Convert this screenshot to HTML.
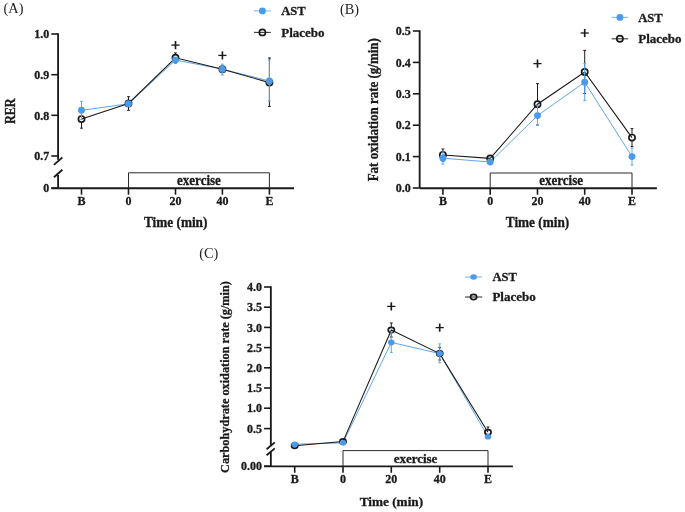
<!DOCTYPE html>
<html><head><meta charset="utf-8"><style>
html,body{margin:0;padding:0;background:#fff;}
svg{display:block;will-change:transform;font-family:"Liberation Serif", serif;}
</style></head><body>
<svg width="685" height="512" viewBox="0 0 685 512">
<rect width="685" height="512" fill="#fff"/>
<line x1="58.1" y1="33.3" x2="58.1" y2="159.8" stroke="#1a1a1a" stroke-width="1.85" />
<line x1="58.1" y1="175.0" x2="58.1" y2="188.2" stroke="#1a1a1a" stroke-width="1.85" />
<line x1="51.300000000000004" y1="34" x2="58.1" y2="34" stroke="#1a1a1a" stroke-width="1.6" />
<text x="0" y="0" transform="translate(49.30,38.20) scale(1.0,1.05)" font-size="12" text-anchor="end" font-weight="bold" fill="#1a1a1a"  stroke="#1a1a1a" stroke-width="0.3">1.0</text>
<line x1="51.300000000000004" y1="74.7" x2="58.1" y2="74.7" stroke="#1a1a1a" stroke-width="1.6" />
<text x="0" y="0" transform="translate(49.30,78.90) scale(1.0,1.05)" font-size="12" text-anchor="end" font-weight="bold" fill="#1a1a1a"  stroke="#1a1a1a" stroke-width="0.3">0.9</text>
<line x1="51.300000000000004" y1="115.3" x2="58.1" y2="115.3" stroke="#1a1a1a" stroke-width="1.6" />
<text x="0" y="0" transform="translate(49.30,119.50) scale(1.0,1.05)" font-size="12" text-anchor="end" font-weight="bold" fill="#1a1a1a"  stroke="#1a1a1a" stroke-width="0.3">0.8</text>
<line x1="51.300000000000004" y1="156.0" x2="58.1" y2="156.0" stroke="#1a1a1a" stroke-width="1.6" />
<text x="0" y="0" transform="translate(49.30,160.20) scale(1.0,1.05)" font-size="12" text-anchor="end" font-weight="bold" fill="#1a1a1a"  stroke="#1a1a1a" stroke-width="0.3">0.7</text>
<line x1="51.300000000000004" y1="188.2" x2="58.1" y2="188.2" stroke="#1a1a1a" stroke-width="1.6" />
<text x="0" y="0" transform="translate(49.30,192.40) scale(1.0,1.05)" font-size="12" text-anchor="end" font-weight="bold" fill="#1a1a1a"  stroke="#1a1a1a" stroke-width="0.3">0</text>
<line x1="53.9" y1="164.9" x2="62.4" y2="157.4" stroke="#1a1a1a" stroke-width="1.85" />
<line x1="53.9" y1="177.3" x2="62.4" y2="169.7" stroke="#1a1a1a" stroke-width="1.85" />
<line x1="51.3" y1="188.2" x2="294.0" y2="188.2" stroke="#1a1a1a" stroke-width="1.85" />
<polyline points="128.5,188.2 128.5,172.8 269.4,172.8 269.4,188.2" fill="none" stroke="#2a2a2a" stroke-width="1.0"/>
<text x="0" y="0" transform="translate(198.95,185.20) scale(1.0,1.1)" font-size="13" text-anchor="middle" font-weight="bold" fill="#1a1a1a"  stroke="#1a1a1a" stroke-width="0.3">exercise</text>
<line x1="81.5" y1="188.2" x2="81.5" y2="194.7" stroke="#1a1a1a" stroke-width="1.6" />
<text x="0" y="0" transform="translate(81.50,205.30) scale(1.0,1.08)" font-size="12" text-anchor="middle" font-weight="bold" fill="#1a1a1a"  stroke="#1a1a1a" stroke-width="0.3">B</text>
<line x1="128.5" y1="188.2" x2="128.5" y2="194.7" stroke="#1a1a1a" stroke-width="1.6" />
<text x="0" y="0" transform="translate(128.50,205.30) scale(1.0,1.08)" font-size="12" text-anchor="middle" font-weight="bold" fill="#1a1a1a"  stroke="#1a1a1a" stroke-width="0.3">0</text>
<line x1="175.5" y1="188.2" x2="175.5" y2="194.7" stroke="#1a1a1a" stroke-width="1.6" />
<text x="0" y="0" transform="translate(175.50,205.30) scale(1.0,1.08)" font-size="12" text-anchor="middle" font-weight="bold" fill="#1a1a1a"  stroke="#1a1a1a" stroke-width="0.3">20</text>
<line x1="222.4" y1="188.2" x2="222.4" y2="194.7" stroke="#1a1a1a" stroke-width="1.6" />
<text x="0" y="0" transform="translate(222.40,205.30) scale(1.0,1.08)" font-size="12" text-anchor="middle" font-weight="bold" fill="#1a1a1a"  stroke="#1a1a1a" stroke-width="0.3">40</text>
<line x1="269.4" y1="188.2" x2="269.4" y2="194.7" stroke="#1a1a1a" stroke-width="1.6" />
<text x="0" y="0" transform="translate(269.40,205.30) scale(1.0,1.08)" font-size="12" text-anchor="middle" font-weight="bold" fill="#1a1a1a"  stroke="#1a1a1a" stroke-width="0.3">E</text>
<text x="0" y="0" transform="translate(175.70,226.60) scale(1.02,1.12)" font-size="13" text-anchor="middle" font-weight="bold" fill="#1a1a1a"  stroke="#1a1a1a" stroke-width="0.3">Time (min)</text>
<text x="0" y="0" transform="translate(14.50,111.20) rotate(-90) scale(0.935,1.15)" font-size="13" text-anchor="middle" font-weight="bold" fill="#1a1a1a"  stroke="#1a1a1a" stroke-width="0.3">RER</text>
<text x="0" y="0" transform="translate(3.60,12.70)" font-size="14.3" text-anchor="start" font-weight="normal" fill="#222" >(A)</text>
<polyline points="81.5,110.3 128.5,103.8 175.5,60.0 222.4,69.2 269.4,81.0" fill="none" stroke="#62a6e6" stroke-width="1.0"/>
<polyline points="81.5,119.1 128.5,103.4 175.5,57.8 222.4,69.2 269.4,82.6" fill="none" stroke="#1a1a1a" stroke-width="1.1"/>
<line x1="81.5" y1="110" x2="81.5" y2="116.0" stroke="#1a1a1a" stroke-width="1.0" />
<line x1="81.5" y1="122.19999999999999" x2="81.5" y2="128.2" stroke="#1a1a1a" stroke-width="1.0" />
<line x1="80.1" y1="110" x2="82.9" y2="110" stroke="#1a1a1a" stroke-width="1.0" />
<line x1="80.1" y1="128.2" x2="82.9" y2="128.2" stroke="#1a1a1a" stroke-width="1.0" />
<line x1="128.5" y1="96.7" x2="128.5" y2="100.30000000000001" stroke="#1a1a1a" stroke-width="1.0" />
<line x1="128.5" y1="106.5" x2="128.5" y2="110.3" stroke="#1a1a1a" stroke-width="1.0" />
<line x1="127.1" y1="96.7" x2="129.9" y2="96.7" stroke="#1a1a1a" stroke-width="1.0" />
<line x1="127.1" y1="110.3" x2="129.9" y2="110.3" stroke="#1a1a1a" stroke-width="1.0" />
<line x1="175.5" y1="52.9" x2="175.5" y2="54.699999999999996" stroke="#1a1a1a" stroke-width="1.0" />
<line x1="175.5" y1="60.9" x2="175.5" y2="63" stroke="#1a1a1a" stroke-width="1.0" />
<line x1="174.1" y1="52.9" x2="176.9" y2="52.9" stroke="#1a1a1a" stroke-width="1.0" />
<line x1="174.1" y1="63" x2="176.9" y2="63" stroke="#1a1a1a" stroke-width="1.0" />
<line x1="269.4" y1="58" x2="269.4" y2="79.5" stroke="#1a1a1a" stroke-width="1.0" />
<line x1="269.4" y1="85.69999999999999" x2="269.4" y2="106.4" stroke="#1a1a1a" stroke-width="1.0" />
<line x1="268.0" y1="58" x2="270.79999999999995" y2="58" stroke="#1a1a1a" stroke-width="1.0" />
<line x1="268.0" y1="106.4" x2="270.79999999999995" y2="106.4" stroke="#1a1a1a" stroke-width="1.0" />
<ellipse cx="81.5" cy="119.1" rx="3.1" ry="3.10" fill="none" stroke="#1a1a1a" stroke-width="1.7"/>
<ellipse cx="128.5" cy="103.4" rx="3.1" ry="3.10" fill="none" stroke="#1a1a1a" stroke-width="1.7"/>
<ellipse cx="175.5" cy="57.8" rx="3.1" ry="3.10" fill="none" stroke="#1a1a1a" stroke-width="1.7"/>
<ellipse cx="222.4" cy="69.2" rx="3.1" ry="3.10" fill="none" stroke="#1a1a1a" stroke-width="1.7"/>
<ellipse cx="269.4" cy="82.6" rx="3.1" ry="3.10" fill="none" stroke="#1a1a1a" stroke-width="1.7"/>
<line x1="81.5" y1="101.3" x2="81.5" y2="119.4" stroke="#62a6e6" stroke-width="1.0" />
<line x1="80.1" y1="101.3" x2="82.9" y2="101.3" stroke="#62a6e6" stroke-width="1.0" />
<line x1="80.1" y1="119.4" x2="82.9" y2="119.4" stroke="#62a6e6" stroke-width="1.0" />
<line x1="222.4" y1="64.2" x2="222.4" y2="75.0" stroke="#62a6e6" stroke-width="1.0" />
<line x1="221.0" y1="64.2" x2="223.8" y2="64.2" stroke="#62a6e6" stroke-width="1.0" />
<line x1="221.0" y1="75.0" x2="223.8" y2="75.0" stroke="#62a6e6" stroke-width="1.0" />
<line x1="269.4" y1="60" x2="269.4" y2="101" stroke="#62a6e6" stroke-width="1.0" />
<line x1="268.0" y1="60" x2="270.79999999999995" y2="60" stroke="#62a6e6" stroke-width="1.0" />
<line x1="268.0" y1="101" x2="270.79999999999995" y2="101" stroke="#62a6e6" stroke-width="1.0" />
<ellipse cx="81.5" cy="110.3" rx="3.45" ry="3.45" fill="#4c9aea"/>
<ellipse cx="128.5" cy="103.8" rx="3.45" ry="3.45" fill="#4c9aea"/>
<ellipse cx="175.5" cy="60.0" rx="3.45" ry="3.45" fill="#4c9aea"/>
<ellipse cx="222.4" cy="69.2" rx="3.45" ry="3.45" fill="#4c9aea"/>
<ellipse cx="269.4" cy="81.0" rx="3.45" ry="3.45" fill="#4c9aea"/>
<line x1="171.4" y1="45.1" x2="179.6" y2="45.1" stroke="#1a1a1a" stroke-width="1.3" />
<line x1="175.5" y1="41.0" x2="175.5" y2="49.2" stroke="#1a1a1a" stroke-width="1.65" />
<line x1="218.3" y1="55.4" x2="226.5" y2="55.4" stroke="#1a1a1a" stroke-width="1.3" />
<line x1="222.4" y1="51.3" x2="222.4" y2="59.5" stroke="#1a1a1a" stroke-width="1.65" />
<line x1="254" y1="10.9" x2="270.8" y2="10.9" stroke="#86b8e6" stroke-width="1.1" />
<ellipse cx="262.4" cy="10.9" rx="3.45" ry="3.45" fill="#4c9aea"/>
<line x1="254" y1="32.4" x2="270.8" y2="32.4" stroke="#3a3a3a" stroke-width="1.1" />
<ellipse cx="262.4" cy="32.4" rx="3.1" ry="3.10" fill="none" stroke="#1a1a1a" stroke-width="1.7"/>
<text x="0" y="0" transform="translate(281.20,15.20) scale(0.97,1.03)" font-size="13" text-anchor="start" font-weight="bold" fill="#1a1a1a"  stroke="#1a1a1a" stroke-width="0.3">AST</text>
<text x="0" y="0" transform="translate(281.20,36.60)" font-size="13" text-anchor="start" font-weight="bold" fill="#1a1a1a"  stroke="#1a1a1a" stroke-width="0.3">Placebo</text>
<line x1="419.65" y1="30.3" x2="419.65" y2="188.0" stroke="#1a1a1a" stroke-width="1.85" />
<line x1="412.84999999999997" y1="31" x2="419.65" y2="31" stroke="#1a1a1a" stroke-width="1.6" />
<text x="0" y="0" transform="translate(410.85,35.20) scale(1.0,1.05)" font-size="12" text-anchor="end" font-weight="bold" fill="#1a1a1a"  stroke="#1a1a1a" stroke-width="0.3">0.5</text>
<line x1="412.84999999999997" y1="62.4" x2="419.65" y2="62.4" stroke="#1a1a1a" stroke-width="1.6" />
<text x="0" y="0" transform="translate(410.85,66.60) scale(1.0,1.05)" font-size="12" text-anchor="end" font-weight="bold" fill="#1a1a1a"  stroke="#1a1a1a" stroke-width="0.3">0.4</text>
<line x1="412.84999999999997" y1="93.8" x2="419.65" y2="93.8" stroke="#1a1a1a" stroke-width="1.6" />
<text x="0" y="0" transform="translate(410.85,98.00) scale(1.0,1.05)" font-size="12" text-anchor="end" font-weight="bold" fill="#1a1a1a"  stroke="#1a1a1a" stroke-width="0.3">0.3</text>
<line x1="412.84999999999997" y1="125.2" x2="419.65" y2="125.2" stroke="#1a1a1a" stroke-width="1.6" />
<text x="0" y="0" transform="translate(410.85,129.40) scale(1.0,1.05)" font-size="12" text-anchor="end" font-weight="bold" fill="#1a1a1a"  stroke="#1a1a1a" stroke-width="0.3">0.2</text>
<line x1="412.84999999999997" y1="156.6" x2="419.65" y2="156.6" stroke="#1a1a1a" stroke-width="1.6" />
<text x="0" y="0" transform="translate(410.85,160.80) scale(1.0,1.05)" font-size="12" text-anchor="end" font-weight="bold" fill="#1a1a1a"  stroke="#1a1a1a" stroke-width="0.3">0.1</text>
<line x1="412.84999999999997" y1="188.0" x2="419.65" y2="188.0" stroke="#1a1a1a" stroke-width="1.6" />
<text x="0" y="0" transform="translate(410.85,192.20) scale(1.0,1.05)" font-size="12" text-anchor="end" font-weight="bold" fill="#1a1a1a"  stroke="#1a1a1a" stroke-width="0.3">0.0</text>
<line x1="419.6" y1="188.25" x2="656.9" y2="188.25" stroke="#1a1a1a" stroke-width="1.85" />
<polyline points="490.2,188.25 490.2,173.0 632.0,173.0 632.0,188.25" fill="none" stroke="#2a2a2a" stroke-width="1.0"/>
<text x="0" y="0" transform="translate(561.10,185.25) scale(1.0,1.1)" font-size="13" text-anchor="middle" font-weight="bold" fill="#1a1a1a"  stroke="#1a1a1a" stroke-width="0.3">exercise</text>
<line x1="442.9" y1="188.25" x2="442.9" y2="194.75" stroke="#1a1a1a" stroke-width="1.6" />
<text x="0" y="0" transform="translate(442.90,205.30) scale(1.0,1.08)" font-size="12" text-anchor="middle" font-weight="bold" fill="#1a1a1a"  stroke="#1a1a1a" stroke-width="0.3">B</text>
<line x1="490.2" y1="188.25" x2="490.2" y2="194.75" stroke="#1a1a1a" stroke-width="1.6" />
<text x="0" y="0" transform="translate(490.20,205.30) scale(1.0,1.08)" font-size="12" text-anchor="middle" font-weight="bold" fill="#1a1a1a"  stroke="#1a1a1a" stroke-width="0.3">0</text>
<line x1="537.5" y1="188.25" x2="537.5" y2="194.75" stroke="#1a1a1a" stroke-width="1.6" />
<text x="0" y="0" transform="translate(537.50,205.30) scale(1.0,1.08)" font-size="12" text-anchor="middle" font-weight="bold" fill="#1a1a1a"  stroke="#1a1a1a" stroke-width="0.3">20</text>
<line x1="584.7" y1="188.25" x2="584.7" y2="194.75" stroke="#1a1a1a" stroke-width="1.6" />
<text x="0" y="0" transform="translate(584.70,205.30) scale(1.0,1.08)" font-size="12" text-anchor="middle" font-weight="bold" fill="#1a1a1a"  stroke="#1a1a1a" stroke-width="0.3">40</text>
<line x1="632.0" y1="188.25" x2="632.0" y2="194.75" stroke="#1a1a1a" stroke-width="1.6" />
<text x="0" y="0" transform="translate(632.00,205.30) scale(1.0,1.08)" font-size="12" text-anchor="middle" font-weight="bold" fill="#1a1a1a"  stroke="#1a1a1a" stroke-width="0.3">E</text>
<text x="0" y="0" transform="translate(537.50,226.60) scale(1.02,1.12)" font-size="13" text-anchor="middle" font-weight="bold" fill="#1a1a1a"  stroke="#1a1a1a" stroke-width="0.3">Time (min)</text>
<text x="0" y="0" transform="translate(377.80,109.70) rotate(-90) scale(1.0,1.1)" font-size="13" text-anchor="middle" font-weight="bold" fill="#1a1a1a"  stroke="#1a1a1a" stroke-width="0.3">Fat oxidation rate (g/min)</text>
<text x="0" y="0" transform="translate(340.00,14.00)" font-size="14.3" text-anchor="start" font-weight="normal" fill="#222" >(B)</text>
<polyline points="442.9,158.2 490.2,162.0 537.5,115.6 584.7,82.2 632.0,156.6" fill="none" stroke="#62a6e6" stroke-width="1.0"/>
<polyline points="442.9,155.0 490.2,158.4 537.5,104.2 584.7,72.0 632.0,137.6" fill="none" stroke="#1a1a1a" stroke-width="1.1"/>
<line x1="442.9" y1="149" x2="442.9" y2="151.9" stroke="#1a1a1a" stroke-width="1.0" />
<line x1="442.9" y1="158.1" x2="442.9" y2="161" stroke="#1a1a1a" stroke-width="1.0" />
<line x1="441.5" y1="149" x2="444.29999999999995" y2="149" stroke="#1a1a1a" stroke-width="1.0" />
<line x1="441.5" y1="161" x2="444.29999999999995" y2="161" stroke="#1a1a1a" stroke-width="1.0" />
<line x1="537.5" y1="83.6" x2="537.5" y2="101.10000000000001" stroke="#1a1a1a" stroke-width="1.0" />
<line x1="537.5" y1="107.3" x2="537.5" y2="125" stroke="#1a1a1a" stroke-width="1.0" />
<line x1="536.1" y1="83.6" x2="538.9" y2="83.6" stroke="#1a1a1a" stroke-width="1.0" />
<line x1="536.1" y1="125" x2="538.9" y2="125" stroke="#1a1a1a" stroke-width="1.0" />
<line x1="584.7" y1="50.4" x2="584.7" y2="68.9" stroke="#1a1a1a" stroke-width="1.0" />
<line x1="584.7" y1="75.1" x2="584.7" y2="93.6" stroke="#1a1a1a" stroke-width="1.0" />
<line x1="583.3000000000001" y1="50.4" x2="586.1" y2="50.4" stroke="#1a1a1a" stroke-width="1.0" />
<line x1="583.3000000000001" y1="93.6" x2="586.1" y2="93.6" stroke="#1a1a1a" stroke-width="1.0" />
<line x1="632.0" y1="128.6" x2="632.0" y2="134.5" stroke="#1a1a1a" stroke-width="1.0" />
<line x1="632.0" y1="140.7" x2="632.0" y2="146.6" stroke="#1a1a1a" stroke-width="1.0" />
<line x1="630.6" y1="128.6" x2="633.4" y2="128.6" stroke="#1a1a1a" stroke-width="1.0" />
<line x1="630.6" y1="146.6" x2="633.4" y2="146.6" stroke="#1a1a1a" stroke-width="1.0" />
<ellipse cx="442.9" cy="155.0" rx="3.1" ry="3.10" fill="none" stroke="#1a1a1a" stroke-width="1.7"/>
<ellipse cx="490.2" cy="158.4" rx="3.1" ry="3.10" fill="none" stroke="#1a1a1a" stroke-width="1.7"/>
<ellipse cx="537.5" cy="104.2" rx="3.1" ry="3.10" fill="none" stroke="#1a1a1a" stroke-width="1.7"/>
<ellipse cx="584.7" cy="72.0" rx="3.1" ry="3.10" fill="none" stroke="#1a1a1a" stroke-width="1.7"/>
<ellipse cx="632.0" cy="137.6" rx="3.1" ry="3.10" fill="none" stroke="#1a1a1a" stroke-width="1.7"/>
<line x1="442.9" y1="152" x2="442.9" y2="164" stroke="#62a6e6" stroke-width="1.0" />
<line x1="441.5" y1="152" x2="444.29999999999995" y2="152" stroke="#62a6e6" stroke-width="1.0" />
<line x1="441.5" y1="164" x2="444.29999999999995" y2="164" stroke="#62a6e6" stroke-width="1.0" />
<line x1="537.5" y1="105.6" x2="537.5" y2="125.4" stroke="#62a6e6" stroke-width="1.0" />
<line x1="536.1" y1="105.6" x2="538.9" y2="105.6" stroke="#62a6e6" stroke-width="1.0" />
<line x1="536.1" y1="125.4" x2="538.9" y2="125.4" stroke="#62a6e6" stroke-width="1.0" />
<line x1="584.7" y1="63.6" x2="584.7" y2="100.4" stroke="#62a6e6" stroke-width="1.0" />
<line x1="583.3000000000001" y1="63.6" x2="586.1" y2="63.6" stroke="#62a6e6" stroke-width="1.0" />
<line x1="583.3000000000001" y1="100.4" x2="586.1" y2="100.4" stroke="#62a6e6" stroke-width="1.0" />
<line x1="632.0" y1="148" x2="632.0" y2="165" stroke="#62a6e6" stroke-width="1.0" />
<line x1="630.6" y1="148" x2="633.4" y2="148" stroke="#62a6e6" stroke-width="1.0" />
<line x1="630.6" y1="165" x2="633.4" y2="165" stroke="#62a6e6" stroke-width="1.0" />
<ellipse cx="442.9" cy="158.2" rx="3.45" ry="3.45" fill="#4c9aea"/>
<ellipse cx="490.2" cy="162.0" rx="3.45" ry="3.45" fill="#4c9aea"/>
<ellipse cx="537.5" cy="115.6" rx="3.45" ry="3.45" fill="#4c9aea"/>
<ellipse cx="584.7" cy="82.2" rx="3.45" ry="3.45" fill="#4c9aea"/>
<ellipse cx="632.0" cy="156.6" rx="3.45" ry="3.45" fill="#4c9aea"/>
<line x1="533.4" y1="63.6" x2="541.6" y2="63.6" stroke="#1a1a1a" stroke-width="1.3" />
<line x1="537.5" y1="59.5" x2="537.5" y2="67.7" stroke="#1a1a1a" stroke-width="1.65" />
<line x1="580.6" y1="33.0" x2="588.8000000000001" y2="33.0" stroke="#1a1a1a" stroke-width="1.3" />
<line x1="584.7" y1="28.9" x2="584.7" y2="37.1" stroke="#1a1a1a" stroke-width="1.65" />
<line x1="611.6" y1="17.4" x2="628.2" y2="17.4" stroke="#86b8e6" stroke-width="1.1" />
<ellipse cx="619.9000000000001" cy="17.4" rx="3.45" ry="3.45" fill="#4c9aea"/>
<line x1="611.6" y1="38.8" x2="628.2" y2="38.8" stroke="#3a3a3a" stroke-width="1.1" />
<ellipse cx="619.9000000000001" cy="38.8" rx="3.1" ry="3.10" fill="none" stroke="#1a1a1a" stroke-width="1.7"/>
<text x="0" y="0" transform="translate(638.20,21.70) scale(0.97,1.03)" font-size="13" text-anchor="start" font-weight="bold" fill="#1a1a1a"  stroke="#1a1a1a" stroke-width="0.3">AST</text>
<text x="0" y="0" transform="translate(638.20,43.00)" font-size="13" text-anchor="start" font-weight="bold" fill="#1a1a1a"  stroke="#1a1a1a" stroke-width="0.3">Placebo</text>
<line x1="270.85" y1="286.3" x2="270.85" y2="445.5" stroke="#1a1a1a" stroke-width="1.85" />
<line x1="270.85" y1="452.2" x2="270.85" y2="466.2" stroke="#1a1a1a" stroke-width="1.85" />
<line x1="264.05" y1="287.0" x2="270.85" y2="287.0" stroke="#1a1a1a" stroke-width="1.6" />
<text x="0" y="0" transform="translate(262.05,291.20) scale(1.0,0.9974999999999999)" font-size="12" text-anchor="end" font-weight="bold" fill="#1a1a1a"  stroke="#1a1a1a" stroke-width="0.3">4.0</text>
<line x1="264.05" y1="307.2" x2="270.85" y2="307.2" stroke="#1a1a1a" stroke-width="1.6" />
<text x="0" y="0" transform="translate(262.05,311.40) scale(1.0,0.9974999999999999)" font-size="12" text-anchor="end" font-weight="bold" fill="#1a1a1a"  stroke="#1a1a1a" stroke-width="0.3">3.5</text>
<line x1="264.05" y1="327.4" x2="270.85" y2="327.4" stroke="#1a1a1a" stroke-width="1.6" />
<text x="0" y="0" transform="translate(262.05,331.60) scale(1.0,0.9974999999999999)" font-size="12" text-anchor="end" font-weight="bold" fill="#1a1a1a"  stroke="#1a1a1a" stroke-width="0.3">3.0</text>
<line x1="264.05" y1="347.6" x2="270.85" y2="347.6" stroke="#1a1a1a" stroke-width="1.6" />
<text x="0" y="0" transform="translate(262.05,351.80) scale(1.0,0.9974999999999999)" font-size="12" text-anchor="end" font-weight="bold" fill="#1a1a1a"  stroke="#1a1a1a" stroke-width="0.3">2.5</text>
<line x1="264.05" y1="367.8" x2="270.85" y2="367.8" stroke="#1a1a1a" stroke-width="1.6" />
<text x="0" y="0" transform="translate(262.05,372.00) scale(1.0,0.9974999999999999)" font-size="12" text-anchor="end" font-weight="bold" fill="#1a1a1a"  stroke="#1a1a1a" stroke-width="0.3">2.0</text>
<line x1="264.05" y1="388.0" x2="270.85" y2="388.0" stroke="#1a1a1a" stroke-width="1.6" />
<text x="0" y="0" transform="translate(262.05,392.20) scale(1.0,0.9974999999999999)" font-size="12" text-anchor="end" font-weight="bold" fill="#1a1a1a"  stroke="#1a1a1a" stroke-width="0.3">1.5</text>
<line x1="264.05" y1="408.2" x2="270.85" y2="408.2" stroke="#1a1a1a" stroke-width="1.6" />
<text x="0" y="0" transform="translate(262.05,412.40) scale(1.0,0.9974999999999999)" font-size="12" text-anchor="end" font-weight="bold" fill="#1a1a1a"  stroke="#1a1a1a" stroke-width="0.3">1.0</text>
<line x1="264.05" y1="428.6" x2="270.85" y2="428.6" stroke="#1a1a1a" stroke-width="1.6" />
<text x="0" y="0" transform="translate(262.05,432.80) scale(1.0,0.9974999999999999)" font-size="12" text-anchor="end" font-weight="bold" fill="#1a1a1a"  stroke="#1a1a1a" stroke-width="0.3">0.5</text>
<line x1="264.05" y1="466.2" x2="270.85" y2="466.2" stroke="#1a1a1a" stroke-width="1.6" />
<text x="0" y="0" transform="translate(262.05,470.40) scale(1.0,0.9974999999999999)" font-size="12" text-anchor="end" font-weight="bold" fill="#1a1a1a"  stroke="#1a1a1a" stroke-width="0.3">0.00</text>
<line x1="266.6" y1="449.2" x2="274.8" y2="442.4" stroke="#1a1a1a" stroke-width="1.85" />
<line x1="266.6" y1="455.2" x2="274.8" y2="448.4" stroke="#1a1a1a" stroke-width="1.85" />
<line x1="264.0" y1="466.3" x2="512.9" y2="466.3" stroke="#1a1a1a" stroke-width="1.85" />
<polyline points="343.0,466.3 343.0,450.6 488.0,450.6 488.0,466.3" fill="none" stroke="#2a2a2a" stroke-width="1.0"/>
<text x="0" y="0" transform="translate(415.50,463.30) scale(1.0,0.9900000000000001)" font-size="13" text-anchor="middle" font-weight="bold" fill="#1a1a1a"  stroke="#1a1a1a" stroke-width="0.3">exercise</text>
<line x1="294.7" y1="466.3" x2="294.7" y2="472.8" stroke="#1a1a1a" stroke-width="1.6" />
<text x="0" y="0" transform="translate(294.70,483.00) scale(1.0,1.026)" font-size="12" text-anchor="middle" font-weight="bold" fill="#1a1a1a"  stroke="#1a1a1a" stroke-width="0.3">B</text>
<line x1="343.0" y1="466.3" x2="343.0" y2="472.8" stroke="#1a1a1a" stroke-width="1.6" />
<text x="0" y="0" transform="translate(343.00,483.00) scale(1.0,1.026)" font-size="12" text-anchor="middle" font-weight="bold" fill="#1a1a1a"  stroke="#1a1a1a" stroke-width="0.3">0</text>
<line x1="391.3" y1="466.3" x2="391.3" y2="472.8" stroke="#1a1a1a" stroke-width="1.6" />
<text x="0" y="0" transform="translate(391.30,483.00) scale(1.0,1.026)" font-size="12" text-anchor="middle" font-weight="bold" fill="#1a1a1a"  stroke="#1a1a1a" stroke-width="0.3">20</text>
<line x1="439.7" y1="466.3" x2="439.7" y2="472.8" stroke="#1a1a1a" stroke-width="1.6" />
<text x="0" y="0" transform="translate(439.70,483.00) scale(1.0,1.026)" font-size="12" text-anchor="middle" font-weight="bold" fill="#1a1a1a"  stroke="#1a1a1a" stroke-width="0.3">40</text>
<line x1="488.0" y1="466.3" x2="488.0" y2="472.8" stroke="#1a1a1a" stroke-width="1.6" />
<text x="0" y="0" transform="translate(488.00,483.00) scale(1.0,1.026)" font-size="12" text-anchor="middle" font-weight="bold" fill="#1a1a1a"  stroke="#1a1a1a" stroke-width="0.3">E</text>
<text x="0" y="0" transform="translate(391.40,506.30) scale(1.02,1.0080000000000002)" font-size="13" text-anchor="middle" font-weight="bold" fill="#1a1a1a"  stroke="#1a1a1a" stroke-width="0.3">Time (min)</text>
<text x="0" y="0" transform="translate(229.40,377.00) rotate(-90) scale(0.945,1.03)" font-size="13" text-anchor="middle" font-weight="bold" fill="#1a1a1a"  stroke="#1a1a1a" stroke-width="0.3">Carbohydrate oxidation rate (g/min)</text>
<text x="0" y="0" transform="translate(199.20,257.80)" font-size="14.3" text-anchor="start" font-weight="normal" fill="#222" >(C)</text>
<polyline points="294.7,444.2 343.0,442.8 391.3,342.4 439.7,353.6 488.0,436.7" fill="none" stroke="#62a6e6" stroke-width="1.0"/>
<polyline points="294.7,445.8 343.0,441.6 391.3,330.1 439.7,353.6 488.0,432.3" fill="none" stroke="#1a1a1a" stroke-width="1.1"/>
<line x1="391.3" y1="323" x2="391.3" y2="327.46500000000003" stroke="#1a1a1a" stroke-width="1.0" />
<line x1="391.3" y1="332.735" x2="391.3" y2="337" stroke="#1a1a1a" stroke-width="1.0" />
<line x1="389.90000000000003" y1="323" x2="392.7" y2="323" stroke="#1a1a1a" stroke-width="1.0" />
<line x1="389.90000000000003" y1="337" x2="392.7" y2="337" stroke="#1a1a1a" stroke-width="1.0" />
<line x1="439.7" y1="347.3" x2="439.7" y2="350.96500000000003" stroke="#1a1a1a" stroke-width="1.0" />
<line x1="439.7" y1="356.235" x2="439.7" y2="360" stroke="#1a1a1a" stroke-width="1.0" />
<line x1="438.3" y1="347.3" x2="441.09999999999997" y2="347.3" stroke="#1a1a1a" stroke-width="1.0" />
<line x1="438.3" y1="360" x2="441.09999999999997" y2="360" stroke="#1a1a1a" stroke-width="1.0" />
<line x1="488.0" y1="427" x2="488.0" y2="429.665" stroke="#1a1a1a" stroke-width="1.0" />
<line x1="488.0" y1="434.935" x2="488.0" y2="437" stroke="#1a1a1a" stroke-width="1.0" />
<line x1="486.6" y1="427" x2="489.4" y2="427" stroke="#1a1a1a" stroke-width="1.0" />
<line x1="486.6" y1="437" x2="489.4" y2="437" stroke="#1a1a1a" stroke-width="1.0" />
<ellipse cx="294.7" cy="445.8" rx="3.1" ry="2.63" fill="none" stroke="#1a1a1a" stroke-width="1.7"/>
<ellipse cx="343.0" cy="441.6" rx="3.1" ry="2.63" fill="none" stroke="#1a1a1a" stroke-width="1.7"/>
<ellipse cx="391.3" cy="330.1" rx="3.1" ry="2.63" fill="none" stroke="#1a1a1a" stroke-width="1.7"/>
<ellipse cx="439.7" cy="353.6" rx="3.1" ry="2.63" fill="none" stroke="#1a1a1a" stroke-width="1.7"/>
<ellipse cx="488.0" cy="432.3" rx="3.1" ry="2.63" fill="none" stroke="#1a1a1a" stroke-width="1.7"/>
<line x1="391.3" y1="332" x2="391.3" y2="352.4" stroke="#62a6e6" stroke-width="1.0" />
<line x1="389.90000000000003" y1="332" x2="392.7" y2="332" stroke="#62a6e6" stroke-width="1.0" />
<line x1="389.90000000000003" y1="352.4" x2="392.7" y2="352.4" stroke="#62a6e6" stroke-width="1.0" />
<line x1="439.7" y1="343.9" x2="439.7" y2="362.7" stroke="#62a6e6" stroke-width="1.0" />
<line x1="438.3" y1="343.9" x2="441.09999999999997" y2="343.9" stroke="#62a6e6" stroke-width="1.0" />
<line x1="438.3" y1="362.7" x2="441.09999999999997" y2="362.7" stroke="#62a6e6" stroke-width="1.0" />
<ellipse cx="294.7" cy="444.2" rx="3.3" ry="2.80" fill="#4c9aea"/>
<ellipse cx="343.0" cy="442.8" rx="3.3" ry="2.80" fill="#4c9aea"/>
<ellipse cx="391.3" cy="342.4" rx="3.3" ry="2.80" fill="#4c9aea"/>
<ellipse cx="439.7" cy="353.6" rx="3.3" ry="2.80" fill="#4c9aea"/>
<ellipse cx="488.0" cy="436.7" rx="3.3" ry="2.80" fill="#4c9aea"/>
<line x1="387.2" y1="306.4" x2="395.40000000000003" y2="306.4" stroke="#1a1a1a" stroke-width="1.3" />
<line x1="391.3" y1="302.29999999999995" x2="391.3" y2="310.5" stroke="#1a1a1a" stroke-width="1.65" />
<line x1="435.59999999999997" y1="327.6" x2="443.8" y2="327.6" stroke="#1a1a1a" stroke-width="1.3" />
<line x1="439.7" y1="323.5" x2="439.7" y2="331.70000000000005" stroke="#1a1a1a" stroke-width="1.65" />
<line x1="465.0" y1="277.0" x2="482.2" y2="277.0" stroke="#86b8e6" stroke-width="1.1" />
<ellipse cx="473.6" cy="277.0" rx="3.3" ry="2.80" fill="#4c9aea"/>
<line x1="465.0" y1="297.0" x2="482.2" y2="297.0" stroke="#3a3a3a" stroke-width="1.1" />
<ellipse cx="473.6" cy="297.0" rx="3.1" ry="2.63" fill="none" stroke="#1a1a1a" stroke-width="1.7"/>
<text x="0" y="0" transform="translate(492.40,281.30) scale(0.97,0.927)" font-size="13" text-anchor="start" font-weight="bold" fill="#1a1a1a"  stroke="#1a1a1a" stroke-width="0.3">AST</text>
<text x="0" y="0" transform="translate(492.40,301.20) scale(1.0,0.9)" font-size="13" text-anchor="start" font-weight="bold" fill="#1a1a1a"  stroke="#1a1a1a" stroke-width="0.3">Placebo</text>
</svg>
</body></html>
